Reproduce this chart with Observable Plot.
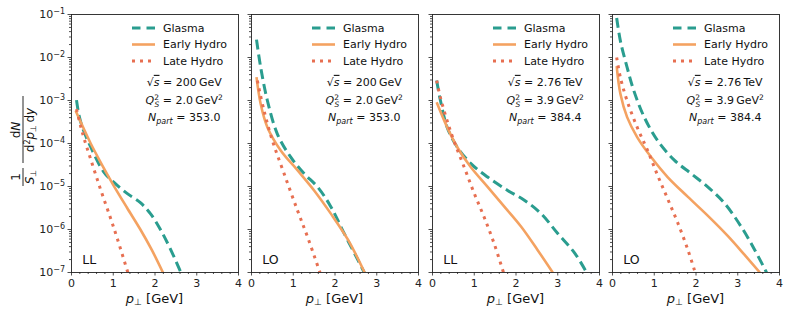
<!DOCTYPE html>
<html>
<head>
<meta charset="utf-8">
<script src="https://cdn.jsdelivr.net/npm/d3@7"></script>
<script src="https://cdn.jsdelivr.net/npm/@observablehq/plot@0.6"></script>
<style>
  html, body { margin: 0; padding: 0; background: #fff; }
  #chart { position: relative; width: 789px; height: 316px; overflow: hidden; }
  #chart svg { position: absolute; top: 0; overflow: visible; }
</style>
</head>
<body>
<div id="chart"></div>
<script>
// ---------- data ----------
const panelLabels = ["LL", "LO", "LL", "LO"];
const sqrtSLabels = ["200 GeV", "200 GeV", "2.76 TeV", "2.76 TeV"];
const qs2Labels = ["2.0", "2.0", "3.9", "3.9"];
const npartLabels = ["353.0", "353.0", "384.4", "384.4"];
const seriesNames = ["Glasma", "Early Hydro", "Late Hydro"];
const xTicks = [0, 1, 2, 3, 4];
const yTicks = [1e-7, 1e-6, 1e-5, 1e-4, 1e-3, 1e-2, 1e-1];

// Panel 1: LL, sqrt(s)=200 GeV
const glasmaX_1 = [0.12, 0.18, 0.26, 0.46, 0.77, 1.01, 1.33, 1.65, 1.89, 2.13, 2.37, 2.62];
const glasmaY_1 = [1.02e-3, 4.5e-4, 2.4e-4, 8.3e-5, 2.2e-5, 1.26e-5, 6.9e-6, 4.2e-6, 2.34e-6, 1.0e-6, 3.5e-7, 1.0e-7];
const earlyX_1 = [0.10, 0.20, 0.46, 0.73, 1.01, 1.33, 1.65, 1.92, 2.19];
const earlyY_1 = [5.8e-4, 3.5e-4, 1.0e-4, 3.2e-5, 1.05e-5, 3.2e-6, 1.0e-6, 3.4e-7, 1.0e-7];
const lateX_1 = [0.12, 0.22, 0.30, 0.46, 0.69, 0.93, 1.11, 1.35];
const lateY_1 = [6.3e-4, 2.5e-4, 1.32e-4, 4.3e-5, 8.9e-6, 1.9e-6, 5.6e-7, 1.0e-7];

// Panel 2: LO, sqrt(s)=200 GeV
const glasmaX_2 = [0.12, 0.22, 0.38, 0.62, 0.94, 1.26, 1.58, 1.90, 2.22, 2.55, 2.70];
const glasmaY_2 = [2.6e-2, 5.9e-3, 1.0e-3, 1.66e-4, 4.8e-5, 2.0e-5, 9.8e-6, 3.4e-6, 8.1e-7, 1.95e-7, 1.0e-7];
const earlyX_2 = [0.12, 0.22, 0.38, 0.70, 1.10, 1.50, 1.90, 2.31, 2.71];
const earlyY_2 = [3.5e-3, 8.3e-4, 2.4e-4, 6.9e-5, 2.4e-5, 8.1e-6, 2.34e-6, 5.8e-7, 1.0e-7];
const lateX_2 = [0.14, 0.30, 0.50, 0.78, 1.10, 1.34, 1.64];
const lateY_2 = [2.9e-3, 5.8e-4, 1.17e-4, 2.0e-5, 2.8e-6, 6.8e-7, 1.0e-7];

// Panel 3: LL, sqrt(s)=2.76 TeV
const glasmaX_3 = [0.10, 0.19, 0.35, 0.59, 0.92, 1.32, 1.80, 2.20, 2.60, 3.00, 3.41, 3.69];
const glasmaY_3 = [2.9e-3, 1.0e-3, 2.4e-4, 8.3e-5, 3.4e-5, 1.66e-5, 8.1e-6, 4.8e-6, 2.34e-6, 8.1e-7, 2.8e-7, 1.0e-7];
const earlyX_3 = [0.10, 0.35, 0.59, 0.92, 1.32, 1.72, 2.12, 2.52, 2.88];
const earlyY_3 = [9.1e-4, 2.4e-4, 8.3e-5, 2.8e-5, 9.8e-6, 3.4e-6, 1.17e-6, 3.3e-7, 1.0e-7];
const lateX_3 = [0.10, 0.19, 0.35, 0.51, 0.76, 1.00, 1.24, 1.48, 1.70];
const lateY_3 = [2.9e-3, 1.17e-3, 3.4e-4, 1.17e-4, 2.8e-5, 6.9e-6, 1.9e-6, 4.6e-7, 1.0e-7];

// Panel 4: LO, sqrt(s)=2.76 TeV
const glasmaX_4 = [0.10, 0.19, 0.35, 0.51, 0.76, 1.08, 1.48, 1.88, 2.28, 2.68, 3.08, 3.41, 3.69];
const glasmaY_4 = [8.3e-2, 2.4e-2, 5.9e-3, 1.7e-3, 4.1e-4, 1.17e-4, 4.1e-5, 2.0e-5, 9.8e-6, 4.1e-6, 1.17e-6, 3.3e-7, 1.0e-7];
const earlyX_4 = [0.10, 0.19, 0.35, 0.59, 0.92, 1.32, 1.80, 2.28, 2.76, 3.16, 3.53];
const earlyY_4 = [6.3e-3, 1.41e-3, 4.1e-4, 1.41e-4, 4.9e-5, 1.66e-5, 5.8e-6, 2.1e-6, 7.1e-7, 2.6e-7, 1.0e-7];
const lateX_4 = [0.10, 0.19, 0.35, 0.59, 0.84, 1.08, 1.32, 1.56, 1.80, 1.98];
const lateY_4 = [1.0e-2, 3.4e-3, 9.8e-4, 2.4e-4, 6.9e-5, 1.82e-5, 5.2e-6, 1.45e-6, 3.5e-7, 1.0e-7];

// ---------- styles ----------
const colors = ["#2a9d8f", "#f4a261", "#e76f51"];
const widths = [3, 2.6, 3];
const dashes = ["10,5", null, "3,5"];

const panelSeries = [
  [[glasmaX_1, glasmaY_1], [earlyX_1, earlyY_1], [lateX_1, lateY_1]],
  [[glasmaX_2, glasmaY_2], [earlyX_2, earlyY_2], [lateX_2, lateY_2]],
  [[glasmaX_3, glasmaY_3], [earlyX_3, earlyY_3], [lateX_3, lateY_3]],
  [[glasmaX_4, glasmaY_4], [earlyX_4, earlyY_4], [lateX_4, lateY_4]]
];

const panelLefts = [71, 251, 432, 612];
const panelW = 167;
const mTop = 14, mBottom = 44, H = 316;

const fmtPow = d => "10^" + Math.round(Math.log10(d));

const minorY = [];
for (let k = -7; k < -1; k++) for (let m = 2; m <= 9; m++) minorY.push(m * Math.pow(10, k));
const minorX = d3.range(0, 4.001, 0.2).map(v => +v.toFixed(1)).filter(v => !xTicks.includes(v));

const annotY = [2.65e-3, 1.0e-3, 4.0e-4];
const annotX = 2.70;

const chart = document.getElementById("chart");

panelSeries.forEach((series, i) => {
  const mL = i === 0 ? 71 : 12;
  const mR = 10;
  const W = mL + panelW + mR;
  const marks = [];
  series.forEach(([xs, ys], s) => {
    const data = xs.map((x, j) => ({x, y: ys[j]}));
    marks.push(Plot.line(data, {
      x: "x", y: "y", stroke: colors[s], strokeWidth: widths[s],
      strokeDasharray: dashes[s] || undefined, curve: "catmull-rom", clip: true,
      strokeLinecap: "butt"
    }));
  });
  marks.push(Plot.axisX(minorX, {tickSize: 2, tickFormat: () => "", strokeWidth: 0.8}));
  marks.push(Plot.axisX(xTicks, {tickSize: 3.5, tickPadding: 3, tickFormat: d => String(d), fontSize: 11, strokeWidth: 0.8}));
  marks.push(Plot.axisY(minorY, {tickSize: 2, tickFormat: () => "", strokeWidth: 0.8}));
  marks.push(Plot.axisY(yTicks, {tickSize: 3.5, tickPadding: 3, strokeWidth: 0.8,
    tickFormat: i === 0 ? fmtPow : () => "", fontSize: 11}));
  marks.push(Plot.text([
    {x: annotX, y: annotY[0], t: "ANN_S"},
    {x: annotX, y: annotY[1], t: "ANN_Q"},
    {x: annotX, y: annotY[2], t: "ANN_N"}
  ], {x: "x", y: "y", text: "t", fontSize: 11, textAnchor: "middle", fill: "#111"}));
  marks.push(Plot.text([{x: 0.26, y: 2.0e-7, t: panelLabels[i]}], {x: "x", y: "y", text: "t", fontSize: 12.5, textAnchor: "start", fill: "#111"}));
  marks.push(Plot.frame({stroke: "#222", strokeWidth: 0.9}));

  const svg = Plot.plot({
    width: W, height: H,
    marginLeft: mL, marginRight: mR, marginTop: mTop, marginBottom: mBottom,
    x: {domain: [0, 4], label: null, axis: null},
    y: {type: "log", domain: [1e-7, 1e-1], label: null, axis: null},
    style: {fontFamily: "DejaVu Sans, sans-serif", fontSize: "11px", color: "#222", background: "transparent", overflow: "visible"},
    marks
  });
  svg.style.left = (panelLefts[i] - mL) + "px";
  chart.appendChild(svg);

  // rich text for annotations and power-of-ten tick labels
  const rich = {
    ANN_S: `<tspan>\u221A</tspan><tspan font-style="italic" text-decoration="overline">s</tspan><tspan> = ${sqrtSLabels[i].replace(" ", "\u2009")}</tspan>`,
    ANN_Q: `<tspan font-style="italic">Q</tspan><tspan font-size="7.5" dy="-4.5">2</tspan><tspan font-size="7.5" font-style="italic" dx="-4.5" dy="7.5">S</tspan><tspan dy="-3"> = ${qs2Labels[i]}\u2009GeV</tspan><tspan font-size="7.5" dy="-4.5">2</tspan>`,
    ANN_N: `<tspan font-style="italic">N</tspan><tspan font-style="italic" font-size="8" dy="2.5">part</tspan><tspan dy="-2.5"> = ${npartLabels[i]}</tspan>`
  };
  svg.querySelectorAll("text").forEach(t => {
    const k = t.textContent;
    if (rich[k]) t.innerHTML = rich[k];
    else if (/^10\^-?\d+$/.test(k)) {
      const e = k.slice(3).replace("-", "\u2212");
      t.innerHTML = `<tspan>10</tspan><tspan font-size="8" dy="-4.5">${e}</tspan>`;
    }
  });

  // legend
  const lg = d3.select(svg).append("g").attr("font-family", "DejaVu Sans, sans-serif")
    .attr("font-size", 11).attr("text-anchor", "start");
  const rowsY = [28, 44.5, 61];
  seriesNames.forEach((name, s) => {
    lg.append("line")
      .attr("x1", mL + 61).attr("x2", mL + 84)
      .attr("y1", rowsY[s]).attr("y2", rowsY[s])
      .attr("stroke", colors[s]).attr("stroke-width", widths[s])
      .attr("stroke-dasharray", s === 0 ? "8.5,6" : (s === 2 ? "3,5" : null));
    lg.append("text").attr("x", mL + 92).attr("y", rowsY[s]).attr("dy", "0.35em")
      .attr("text-anchor", "start").attr("fill", "#111").text(name);
  });

  // x axis title
  const xt = d3.select(svg).append("text")
    .attr("x", mL + panelW / 2).attr("y", 303)
    .attr("text-anchor", "middle").attr("font-family", "DejaVu Sans, sans-serif")
    .attr("font-size", 13).attr("fill", "#111");
  xt.html(`<tspan font-style="italic">p</tspan><tspan font-size="9" dy="2">\u22A5</tspan><tspan dy="-2"> [GeV]</tspan>`);

  // y axis title on the first panel
  if (i === 0) {
    const g = d3.select(svg).append("g")
      .attr("transform", "translate(23,142) rotate(-90)")
      .attr("font-family", "DejaVu Sans, sans-serif").attr("font-size", 12).attr("fill", "#111");
    g.append("text").attr("x", -35).attr("y", -3).attr("text-anchor", "middle").text("1");
    g.append("line").attr("x1", -44).attr("x2", -26).attr("y1", 0).attr("y2", 0).attr("stroke", "#111").attr("stroke-width", 0.9);
    g.append("text").attr("x", -35).attr("y", 11).attr("text-anchor", "middle")
      .html(`<tspan font-style="italic">S</tspan><tspan font-size="8" dy="2">\u22A5</tspan>`);
    g.append("text").attr("x", 12).attr("y", -3).attr("text-anchor", "middle")
      .html(`<tspan>d</tspan><tspan font-style="italic">N</tspan>`);
    g.append("line").attr("x1", -21).attr("x2", 46).attr("y1", 0).attr("y2", 0).attr("stroke", "#111").attr("stroke-width", 0.9);
    g.append("text").attr("x", 12).attr("y", 11).attr("text-anchor", "middle")
      .html(`<tspan>d</tspan><tspan font-size="8" dy="-4">2</tspan><tspan font-style="italic" dy="4">p</tspan><tspan font-size="8" dy="2">\u22A5</tspan><tspan dy="-2">\u2009d</tspan><tspan font-style="italic">y</tspan>`);
  }
});
</script>
</body>
</html>
